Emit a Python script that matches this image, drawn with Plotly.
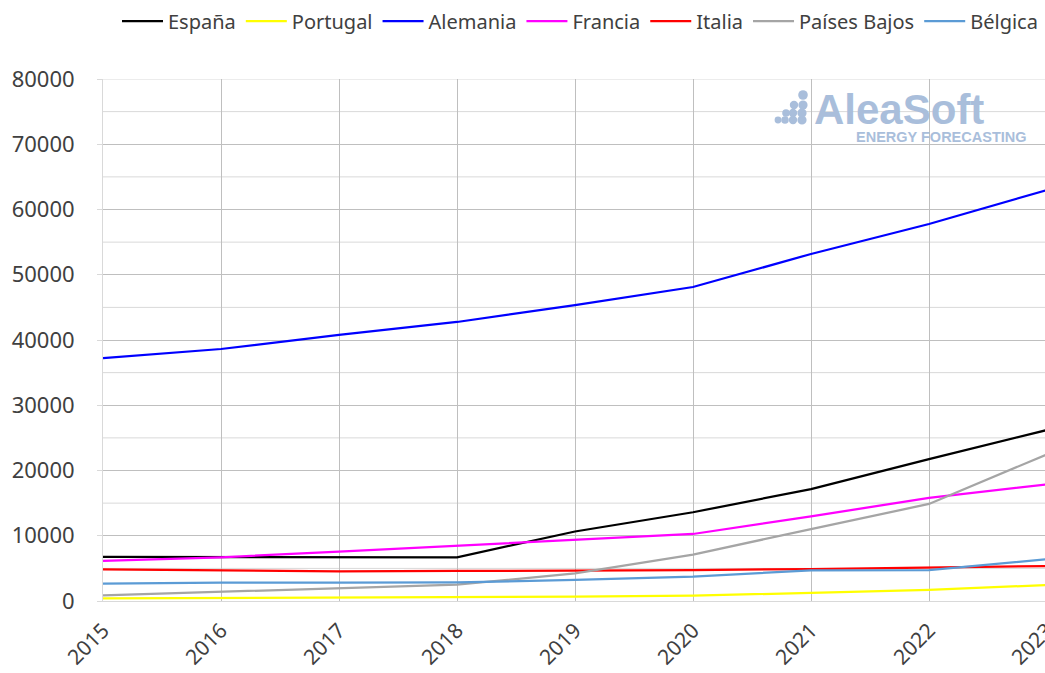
import plotly.graph_objects as go

years = [2015, 2016, 2017, 2018, 2019, 2020, 2021, 2022, 2023]
espana = [6750, 6720, 6720, 6700, 10650, 13600, 17150, 21750, 26200]
portugal = [400, 450, 500, 550, 660, 810, 1270, 1690, 2450]
alemania = [37240, 38620, 40770, 42760, 45360, 48120, 53180, 57780, 62990]
francia = [6130, 6700, 7560, 8430, 9350, 10270, 12980, 15790, 17880]
italia = [4860, 4700, 4550, 4600, 4650, 4750, 4900, 5110, 5360]
paises_bajos = [870, 1430, 2040, 2500, 4240, 7100, 11030, 14870, 22480]
belgica = [2660, 2810, 2810, 2860, 3220, 3730, 4700, 4750, 6390]

series = [
    ("España", espana, "#000000"),
    ("Portugal", portugal, "#ffff00"),
    ("Alemania", alemania, "#0000ff"),
    ("Francia", francia, "#ff00ff"),
    ("Italia", italia, "#ff0000"),
    ("Países Bajos", paises_bajos, "#a5a5a5"),
    ("Bélgica", belgica, "#5b9bd5"),
]

FONT = "Noto Sans"
W, H = 1047, 673
ML, MR, MT, MB = 103, 0, 79, 72

fig = go.Figure()
for name, vals, col in series:
    fig.add_trace(go.Scatter(x=years, y=vals, mode="lines", name=name,
                             line=dict(color=col, width=2.25), cliponaxis=False))

shapes = []
for v in range(5000, 80000, 10000):
    shapes.append(dict(type="line", xref="paper", yref="y", x0=0, x1=1, y0=v, y1=v,
                       line=dict(color="#d9d9d9", width=1), layer="below"))
shapes.append(dict(type="line", xref="paper", yref="y", x0=0, x1=1, y0=80000, y1=80000,
                   line=dict(color="#d9d9d9", width=1), layer="below"))

pw = W - ML - MR
ph = H - MT - MB
def px(x):
    return (x - ML) / pw
def py(y):
    return (H - MB - y) / ph
dots = [(778, 120, 3.4), (785, 120, 3.8), (793, 120, 4.2), (802, 120, 4.6),
        (786, 113, 3.8), (793, 113, 4.2), (802, 113, 4.6),
        (794, 105, 4.2), (803, 105, 4.6), (803, 95, 4.8)]
for x, y, r in dots:
    shapes.append(dict(type="circle", xref="paper", yref="paper",
                       x0=px(x - r), x1=px(x + r), y0=py(y + r), y1=py(y - r),
                       fillcolor="#a9bedb", line=dict(width=0), layer="above"))

fig.update_layout(
    width=W, height=H,
    margin=dict(l=ML, r=MR, t=MT, b=MB, autoexpand=False),
    paper_bgcolor="white", plot_bgcolor="white",
    font=dict(family=FONT, color="#404040"),
    shapes=shapes,
    showlegend=True,
    legend=dict(orientation="h", x=px(1043), xanchor="right", y=py(21), yanchor="middle",
                yref="paper", font=dict(size=20, family="Noto Sans", color="#404040"),
                itemwidth=41, tracegroupgap=0, bgcolor="rgba(0,0,0,0)"),
    annotations=[
        dict(text="<b>AleaSoft</b>", xref="paper", yref="paper", x=px(812), y=py(135),
             xanchor="left", yanchor="bottom", showarrow=False,
             font=dict(family="Liberation Sans", size=42, color="#a9bedb")),
        dict(text="<b>ENERGY FORECASTING</b>", xref="paper", yref="paper", x=px(1029), y=py(127),
             xanchor="right", yanchor="top", showarrow=False,
             font=dict(family="Liberation Sans", size=14.5, color="#a9bedb")),
    ],
)

fig.update_xaxes(range=[2015, 2023], tickmode="array", tickvals=years,
                 ticktext=[str(y) for y in years], tickangle=-45,
                 showgrid=True, gridcolor="#bfbfbf", gridwidth=1,
                 showline=True, linecolor="#d9d9d9", linewidth=1,
                 zeroline=False, ticks="", automargin=False, ticklabelstandoff=8,
                 ticklabeloverflow="allow",
                 tickfont=dict(size=21, family=FONT, color="#404040"))
fig.update_yaxes(range=[0, 80000], tickmode="linear", tick0=0, dtick=10000,
                 tickformat="d",
                 showgrid=True, gridcolor="#bfbfbf", gridwidth=1,
                 showline=True, linecolor="#d9d9d9", linewidth=1,
                 zeroline=False, ticks="outside", ticklen=5, tickcolor="#d9d9d9",
                 automargin=False, ticklabelstandoff=18,
                 tickfont=dict(size=22, family=FONT, color="#404040"))

fig.write_html("out.html", config={"displayModeBar": False},
               post_script="document.body.style.margin='0px';document.body.style.overflow='hidden';")
